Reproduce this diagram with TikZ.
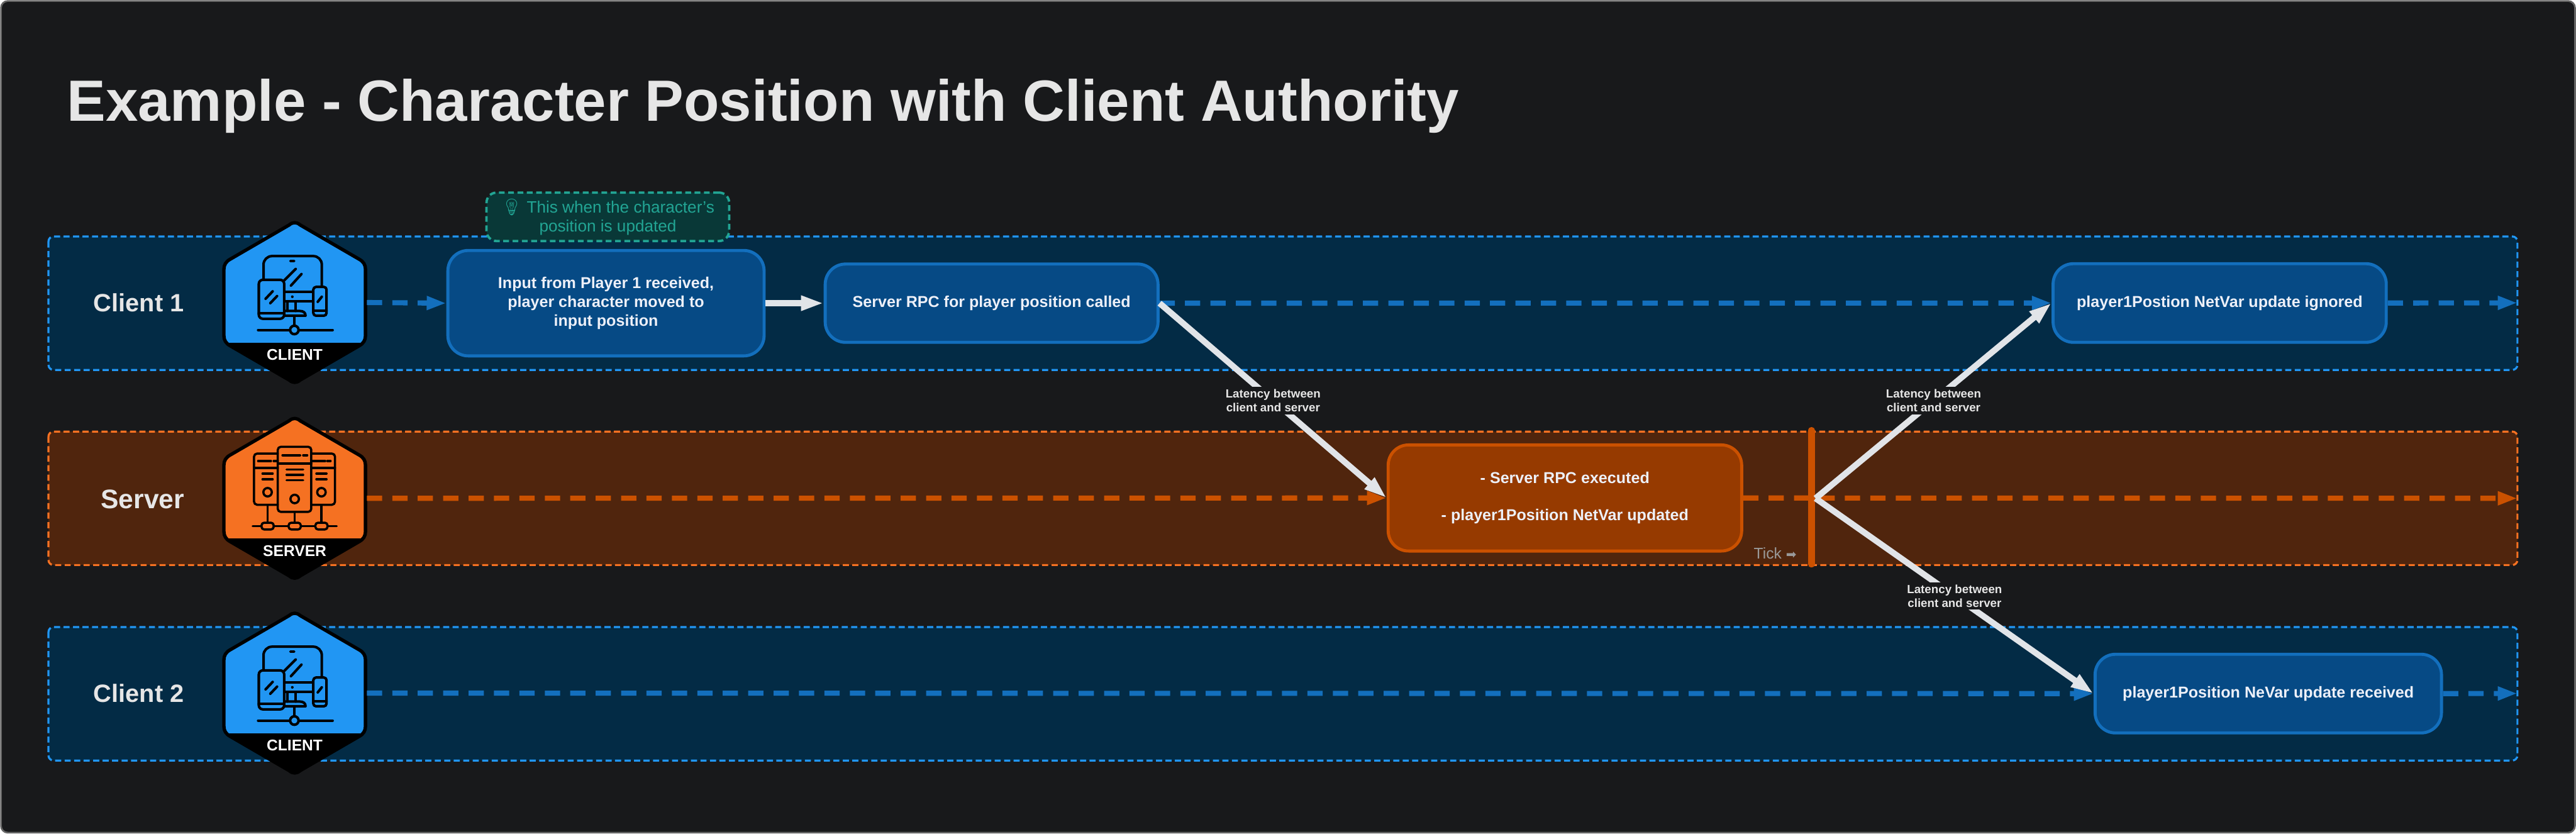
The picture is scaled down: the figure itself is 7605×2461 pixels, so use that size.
\documentclass[tikz,border=0pt]{standalone}
\usepackage{fontspec}
\setmainfont{Liberation Sans}
\newfontfamily\dejavu{DejaVu Sans}
\newfontfamily\emojifont{Noto Emoji}
\usetikzlibrary{arrows.meta}
\definecolor{pagebg}{HTML}{18191B}
\definecolor{framec}{HTML}{666666}
\definecolor{bandbluefill}{HTML}{032B45}
\definecolor{bandblue}{HTML}{2196F3}
\definecolor{bandorangefill}{HTML}{50250D}
\definecolor{bandorange}{HTML}{F57122}
\definecolor{boxbluefill}{HTML}{064A85}
\definecolor{boxblue}{HTML}{136FBD}
\definecolor{boxorangefill}{HTML}{963A00}
\definecolor{boxorange}{HTML}{CB5100}
\definecolor{notefill}{HTML}{093837}
\definecolor{notec}{HTML}{22A594}
\definecolor{arrowgrey}{HTML}{E1E4E8}
\definecolor{titlec}{HTML}{E6E6E6}
\definecolor{boxtext}{HTML}{EDF0F8}
\definecolor{tickc}{HTML}{9A9A9A}
\newcommand{\hexoutline}{(-16,-229) .. controls (-6,-238) and (6,-238) .. (16,-229)
  -- (190,-128) .. controls (203,-121) and (209,-111) .. (209,-98)
  -- (209,98) .. controls (209,111) and (203,121) .. (190,128)
  -- (16,229) .. controls (6,238) and (-6,238) .. (-16,229)
  -- (-190,128) .. controls (-203,121) and (-209,111) .. (-209,98)
  -- (-209,-98) .. controls (-209,-111) and (-203,-121) .. (-190,-128) -- cycle}
\newcommand{\hexbody}[2]{%
  \node[hexanchor] (-h) at (0,0) {};
  \fill[#1] \hexoutline;
  \begin{scope}
    \clip \hexoutline;
    \fill[black] (-230,118) rectangle (230,260);
  \end{scope}
  \draw[black,line width=.1cm,line join=round] \hexoutline;
  \node[badgetext] (-t) at (0,155) {#2};
}
\tikzset{
  x=0.01cm,y=-0.01cm,
  hexanchor/.style={minimum width=4.26cm,minimum height=4.82cm,inner sep=0pt,outer sep=0pt},
  badgetext/.style={text=white,font=\fontsize{13}{13}\selectfont\bfseries,inner sep=0pt},
  band/.style={rounded corners=.15cm,line width=.06cm,dash pattern=on .18cm off .10cm},
  blueband/.style={band,draw=bandblue,fill=bandbluefill},
  orangeband/.style={band,draw=bandorange,fill=bandorangefill},
  flowbox/.style={rounded corners=.6cm,line width=.09cm,inner sep=0pt,align=center,text=boxtext,
    font=\fontsize{13.25}{15.6}\selectfont\bfseries},
  bluebox/.style={flowbox,draw=boxblue,fill=boxbluefill},
  orangebox/.style={flowbox,draw=boxorange,fill=boxorangefill},
  notebox/.style={rounded corners=.3cm,line width=.07cm,dash pattern=on .17cm off .105cm,draw=notec,fill=notefill,
    text=notec,align=center,inner sep=0pt,font=\fontsize{13.8}{15.9}\selectfont},
  lanelabel/.style={text=titlec,font=\fontsize{21}{21}\selectfont\bfseries,inner sep=0pt},
  timeline/.style={line width=.15cm,dash pattern=on .45cm off .30cm,-{Triangle[length=.58cm,width=.38cm]}},
  bluetime/.style={timeline,draw=boxblue},
  orangetime/.style={timeline,draw=boxorange},
  msg/.style={line width=.18cm,draw=arrowgrey,-{Triangle[length=.67cm,width=.41cm,fill=arrowgrey]}},
  latency/.style={fill=pagebg,text=titlec,align=center,inner sep=0pt,minimum width=2.9cm,minimum height=.81cm,
    font=\fontsize{9.9}{11.7}\selectfont\bfseries},
  ticktext/.style={text=tickc,inner sep=0pt,font=\fontsize{13}{13}\selectfont},
  pics/clientbadge/.style={code={
    \hexbody{bandblue}{CLIENT}
    \begin{scope}[draw=black,line width=.075cm,line cap=round,line join=round]
      \draw[rounded corners=.25cm] (-92,-70) -- (-92,-137) -- (80,-137) -- (80,-49);
      \fill[black,rounded corners=.03cm] (-16,-126) rectangle (2,-119);
      \draw (3,-99) -- (-31,-65);
      \draw (20,-84) -- (-11,-50);
      \draw (-31,-32) -- (55,-32);
      \draw (-31,-3) -- (55,-3);
      \fill[black] (-7,-17) circle[radius=.04cm];
      \draw (-22,-3) -- (-22,25);
      \draw (3,-3) -- (3,25);
      \draw (-31,25) -- (15,25) .. controls (26,25) and (32,30) .. (32,39) -- (-31,39);
      \draw (-1,41) -- (-1,66);
      \draw (-108,81) -- (-15,81);
      \draw (15,81) -- (112,81);
      \draw (-1,81) circle[radius=.125cm];
      \draw[fill=bandblue,rounded corners=.12cm] (-106,-67) rectangle (-31,48);
      \draw (-106,32) -- (-31,32);
      \draw (-65,-33) -- (-86,-11);
      \draw (-52,-19) -- (-72,2);
      \draw[fill=bandblue,rounded corners=.08cm] (55,-46) rectangle (94,39);
      \draw (55,24) -- (94,24);
      \draw (80,-17) -- (68,-2);
    \end{scope}
  }},
  pics/serverbadge/.style={code={
    \hexbody{bandorange}{SERVER}
    \begin{scope}[draw=black,line width=.065cm,line cap=round,line join=round]
      \draw[rounded corners=.09cm] (-50,19) -- (-120,19) -- (-120,-132) -- (-50,-132);
      \draw[rounded corners=.09cm] (50,19) -- (119,19) -- (119,-132) -- (50,-132);
      \draw (-120,-90) -- (-50,-90);
      \draw (50,-90) -- (119,-90);
      \draw (-108,-110) -- (-70,-110);
      \draw (-62,-110) -- (-50,-110);
      \draw (50,-110) -- (90,-110);
      \draw (96,-110) -- (106,-110);
      \draw (-95,-73) -- (-65,-73);
      \draw (-95,-56) -- (-65,-56);
      \draw (64,-73) -- (94,-73);
      \draw (64,-56) -- (94,-56);
      \draw (-80,-18) circle[radius=.125cm];
      \draw (79,-18) circle[radius=.125cm];
      \draw[rounded corners=.09cm] (-50,-152) rectangle (49,40);
      \draw (-50,-103) -- (49,-103);
      \draw (-36,-127) -- (16,-127);
      \draw (25,-127) -- (37,-127);
      \draw (-24,-85) -- (25,-85);
      \draw (-24,-69) -- (25,-69);
      \draw (-24,-53) -- (25,-53);
      \draw (0,2) circle[radius=.125cm];
      \draw (-80,21) -- (-80,71);
      \draw (0,40) -- (0,71);
      \draw (79,21) -- (79,71);
      \draw (-124,82) -- (124,82);
      \foreach \nx in {-80,0,79}{
        \draw[fill=bandorange,rounded corners=.08cm] (\nx-18,72) rectangle (\nx+18,92);
      }
    \end{scope}
  }},
}
\begin{document}
\begin{tikzpicture}
\useasboundingbox (0,0) rectangle (7605,2461);
\fill[white] (0,0) rectangle (7605,2461);
\draw[draw=framec,fill=pagebg,line width=.05cm,rounded corners=.2cm] (3,3) rectangle (7602,2458);

\node[anchor=base west,inner sep=0pt,text=titlec,font=\fontsize{48.8}{48.8}\selectfont\bfseries] (title) at (197,358)
  {Example - Character Position with Client Authority};

% bands
\draw[blueband] (143,698) rectangle (7432,1092);
\draw[orangeband] (143,1274) rectangle (7432,1668);
\draw[blueband] (143,1851) rectangle (7432,2245);

\node[lanelabel] (lane1) at (410,893) {Client 1};
\node[lanelabel,font=\fontsize{22.5}{22.5}\selectfont\bfseries] (lane2) at (421,1474) {Server};
\node[lanelabel] (lane3) at (410,2047) {Client 2};

% process boxes
\node[bluebox,minimum width=9.33cm,minimum height=3.11cm] (input) at (1789,895)
  {Input from Player 1 received,\\player character moved to\\input position};
\node[bluebox,minimum width=9.82cm,minimum height=2.31cm] (rpc) at (2927.5,895) {Server RPC for player position called};
\node[orangebox,minimum width=10.43cm,minimum height=3.13cm] (exec) at (4620,1470)
  {- Server RPC executed\\[15.6pt]- player1Position NetVar updated};
\node[bluebox,minimum width=9.83cm,minimum height=2.32cm] (ignored) at (6553,894.5) {player1Postion NetVar update ignored};
\node[bluebox,minimum width=10.22cm,minimum height=2.32cm] (received) at (6696.5,2047.5) {player1Position NeVar update received};

\node[notebox,minimum width=7.16cm,minimum height=1.43cm] (note) at (1794.5,640)
  {{\emojifont 💡} This when the character's\\position is updated};

% badges
\pic (c1) at (870,893) {clientbadge};
\pic (srv) at (870,1471) {serverbadge};
\pic (c2) at (870,2046) {clientbadge};

% ends of the timelines
\coordinate (end1) at (7432,894);
\coordinate (end2) at (7432,1471);
\coordinate (end3) at (7432,2047);

% timelines
\draw[bluetime] (c1-h.east) -- (input.west);
\draw[bluetime] (rpc.east) -- (ignored.west);
\draw[bluetime] (ignored.east) -- (end1);
\draw[orangetime] (srv-h.east) -- (exec.west);
\draw[orangetime] (exec.east) -- (end2);
\draw[bluetime] (c2-h.east) -- (received.west);
\draw[bluetime] (received.east) -- (end3);

% tick
\node[draw=none,fill=boxorange,minimum width=.2cm,minimum height=4.14cm,inner sep=0pt,rounded corners=.09cm] (tick) at (5348,1468) {};
\node[ticktext,anchor=base west] (ticklabel) at (5177,1650) {Tick {\dejavu\fontsize{10.5}{10.5}\selectfont ➡}};
\coordinate (fork) at (5360,1471);

% messages
\draw[msg] (input.east) -- (rpc.west);
\draw[msg] (rpc.east) -- node[latency] (lat1) {Latency between\\client and server} (exec.west);
\draw[msg] (fork) -- node[latency] (lat2) {Latency between\\client and server} (ignored.west);
\draw[msg] (fork) -- node[latency] (lat3) {Latency between\\client and server} (received.west);
\end{tikzpicture}
\end{document}
